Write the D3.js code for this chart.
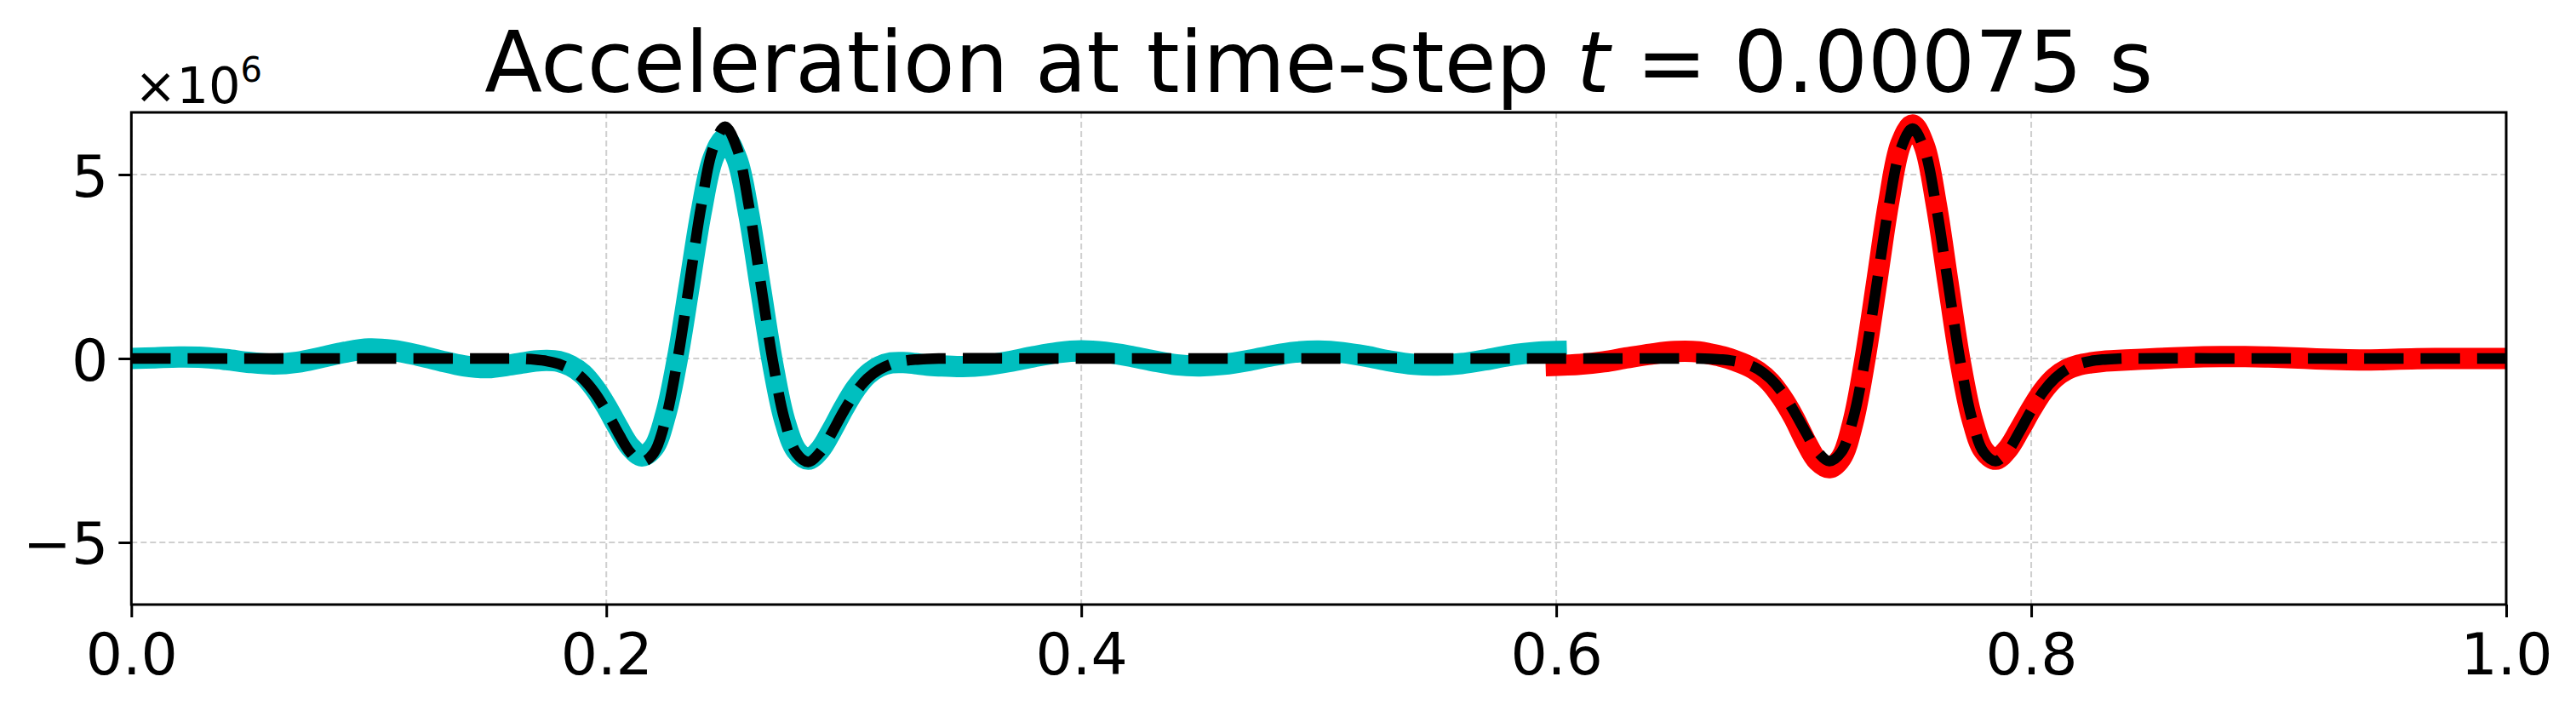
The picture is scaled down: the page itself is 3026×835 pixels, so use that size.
<!DOCTYPE html>
<html><head><meta charset="utf-8">
<script src="https://cdn.jsdelivr.net/npm/d3@7"></script>
<style>
html,body{margin:0;padding:0;background:#fff;}
text{font-family:"DejaVu Sans",sans-serif;}
</style></head>
<body>
<svg id="chart" width="3026" height="835"></svg>
<script>
// ---------- data (values in units of 1e6) ----------
const titleMain = "Acceleration at time-step ";
const titleVar = "t";
const titleRest = " = 0.00075 s";
const xTicks = [0.0, 0.2, 0.4, 0.6, 0.8, 1.0];
const yTicks = [-5, 0, 5];

// exact solution (black dashed)
const exactX = [0, 0.05, 0.10, 0.15,
  0.160,0.165,0.170,0.175,0.180,0.185,0.190,0.195,0.200,0.205,0.210,0.215,0.220,0.225,0.230,0.235,0.240,0.245,0.250,
  0.255,0.260,0.265,0.270,0.275,0.280,0.285,0.290,0.295,0.300,0.305,0.310,0.315,0.320,0.325,0.330,0.335,0.340,
  0.40, 0.50, 0.60, 0.65,
  0.660,0.665,0.670,0.675,0.680,0.685,0.690,0.695,0.700,0.705,0.710,0.715,0.720,0.725,0.730,0.735,0.740,0.745,0.750,
  0.755,0.760,0.765,0.770,0.775,0.780,0.785,0.790,0.795,0.800,0.805,0.810,0.815,0.820,0.825,0.830,0.835,0.840,
  0.90, 0.95, 1.00];
const exactY = [0, 0, 0, 0,
  0,-0.01,-0.03,-0.07,-0.15,-0.30,-0.54,-0.92,-1.43,-2.02,-2.55,-2.81,-2.57,-1.65,-0.03,2.05,4.16,5.72,6.30,
  5.72,4.16,2.05,-0.03,-1.65,-2.57,-2.81,-2.55,-2.02,-1.43,-0.92,-0.54,-0.30,-0.15,-0.07,-0.03,-0.01,0,
  0, 0, 0, 0,
  0,-0.01,-0.03,-0.07,-0.15,-0.29,-0.54,-0.91,-1.42,-2.00,-2.53,-2.79,-2.55,-1.64,-0.03,2.04,4.13,5.68,6.25,
  5.68,4.13,2.04,-0.03,-1.64,-2.55,-2.79,-2.53,-2.00,-1.42,-0.91,-0.54,-0.29,-0.15,-0.07,-0.03,-0.01,0,
  0, 0, 0];

// first sub-domain solution (cyan)
const cyanX = [0.00,0.01,0.02,0.03,0.04,0.05,0.06,0.07,0.08,0.09,0.10,0.11,0.12,0.13,0.14,0.15,0.16,
  0.165,0.170,0.175,0.180,0.185,0.190,0.195,0.200,0.205,0.210,0.215,0.220,0.225,0.230,0.235,0.240,0.245,0.250,
  0.255,0.260,0.265,0.270,0.275,0.280,0.285,0.290,0.295,0.300,0.305,0.310,0.315,0.320,0.325,0.330,0.335,
  0.34,0.35,0.36,0.37,0.38,0.39,0.40,0.41,0.42,0.43,0.44,0.45,0.46,0.47,0.48,0.49,0.50,
  0.51,0.52,0.53,0.54,0.55,0.56,0.57,0.58,0.59,0.60];
const cyanY = [0.00,0.02,0.04,0.03,-0.03,-0.11,-0.15,-0.10,0.03,0.17,0.26,0.22,0.10,-0.06,-0.20,-0.25,-0.17,
  -0.12,-0.07,-0.05,-0.08,-0.20,-0.42,-0.80,-1.30,-1.88,-2.40,-2.65,-2.42,-1.52,0.02,2.00,4.00,5.45,5.98,
  5.42,3.92,1.88,-0.12,-1.66,-2.50,-2.74,-2.48,-1.95,-1.35,-0.82,-0.44,-0.22,-0.12,-0.11,-0.14,-0.18,
  -0.20,-0.22,-0.18,-0.08,0.05,0.16,0.21,0.17,0.07,-0.06,-0.17,-0.20,-0.16,-0.06,0.07,0.17,0.20,
  0.16,0.06,-0.07,-0.16,-0.18,-0.14,-0.04,0.08,0.16,0.19];

// second sub-domain solution (red)
const redX = [0.60,0.61,0.62,0.63,0.64,0.65,0.66,
  0.665,0.670,0.675,0.680,0.685,0.690,0.695,0.700,0.705,0.710,0.715,0.720,0.725,0.730,0.735,0.740,0.745,0.750,
  0.755,0.760,0.765,0.770,0.775,0.780,0.785,0.790,0.795,0.800,0.805,0.810,0.815,0.820,0.825,0.830,0.835,
  0.84,0.85,0.86,0.87,0.88,0.89,0.90,0.91,0.92,0.93,0.94,0.95,0.96,0.97,0.98,0.99,1.00];
const redY = [-0.19,-0.16,-0.09,0.02,0.12,0.19,0.18,
  0.12,0.05,-0.05,-0.18,-0.36,-0.64,-1.06,-1.60,-2.25,-2.78,-2.97,-2.70,-1.72,-0.02,2.10,4.25,5.82,6.35,
  5.78,4.20,2.05,-0.05,-1.62,-2.50,-2.74,-2.47,-1.95,-1.38,-0.88,-0.52,-0.30,-0.18,-0.12,-0.08,-0.06,
  -0.04,-0.01,0.02,0.04,0.05,0.05,0.04,0.02,-0.01,-0.03,-0.04,-0.03,-0.01,0.00,0.00,0.00,0.00];

// ---------- layout ----------
const W = 3026, H = 835;
const L = 154.3, R = 2944, T = 132, B = 710;
const svg = d3.select("#chart");
const x = d3.scaleLinear().domain([0, 1]).range([L, R]);
const y = d3.scaleLinear().domain([-6.69, 6.69]).range([B, T]);

svg.append("defs").append("clipPath").attr("id","clip")
  .append("rect").attr("x", L).attr("y", T).attr("width", R - L).attr("height", B - T);

// grid
const grid = svg.append("g");
grid.selectAll(".gx").data(xTicks).enter().append("line")
  .attr("x1", d => x(d)).attr("x2", d => x(d)).attr("y1", T).attr("y2", B)
  .attr("stroke", "#cfcfcf").attr("stroke-width", 2).attr("stroke-dasharray", "7,4");
grid.selectAll(".gy").data(yTicks).enter().append("line")
  .attr("x1", L).attr("x2", R).attr("y1", d => y(d)).attr("y2", d => y(d))
  .attr("stroke", "#cfcfcf").attr("stroke-width", 2).attr("stroke-dasharray", "7,4");

// lines
const mk = (xs, ys) => xs.map((v, i) => [v, ys[i]]);
const line = d3.line().x(d => x(d[0])).y(d => y(d[1])).curve(d3.curveCatmullRom.alpha(0.5));
const plot = svg.append("g").attr("clip-path", "url(#clip)");
plot.append("path").attr("d", line(mk(cyanX, cyanY)))
  .attr("fill", "none").attr("stroke", "#00bfbf").attr("stroke-width", 25)
  .attr("stroke-linecap", "square").attr("stroke-linejoin", "round");
plot.append("path").attr("d", line(mk(redX, redY)))
  .attr("fill", "none").attr("stroke", "#ff0000").attr("stroke-width", 25)
  .attr("stroke-linecap", "square").attr("stroke-linejoin", "round");
plot.append("path").attr("d", line(mk(exactX, exactY)))
  .attr("fill", "none").attr("stroke", "#000").attr("stroke-width", 12.5)
  .attr("stroke-dasharray", "46.25,20").attr("stroke-linecap", "butt").attr("stroke-linejoin", "round");

// axes
const ax = svg.append("g").attr("transform", `translate(0,${B})`)
  .call(d3.axisBottom(x).tickValues(xTicks).tickFormat(d3.format(".1f")).tickSize(15).tickPadding(18));
const ay = svg.append("g").attr("transform", `translate(${L},0)`)
  .call(d3.axisLeft(y).tickValues(yTicks).tickFormat(d3.format("d")).tickSize(15).tickPadding(12));
[ax, ay].forEach(g => {
  g.select(".domain").remove();
  g.selectAll(".tick line").attr("stroke", "#000").attr("stroke-width", 3);
  g.selectAll(".tick text").attr("fill", "#000").style("font-size", "68px")
    .style("font-family", "'DejaVu Sans', sans-serif");
});
ax.selectAll(".tick text").attr("dy", null).attr("y", 82).attr("dominant-baseline", "alphabetic");
ay.selectAll(".tick text").attr("dy", null).attr("y", 25).attr("dominant-baseline", "alphabetic");

// spines
svg.append("rect").attr("x", L).attr("y", T).attr("width", R - L).attr("height", B - T)
  .attr("fill", "none").attr("stroke", "#000").attr("stroke-width", 3);

// offset text
const off = svg.append("text").attr("x", 158).attr("y", 121).style("font-size", "59px").attr("fill", "#000");
off.append("tspan").text("×10");
off.append("tspan").attr("dy", -25).style("font-size", "40px").text("6");

// title
const title = svg.append("text").attr("x", (L + R) / 2).attr("y", 108)
  .attr("text-anchor", "middle").style("font-size", "99px").attr("fill", "#000")
  .attr("xml:space", "preserve");
title.append("tspan").text(titleMain);
title.append("tspan").style("font-style", "italic").text(titleVar);
title.append("tspan").text(titleRest);
</script>
</body></html>
